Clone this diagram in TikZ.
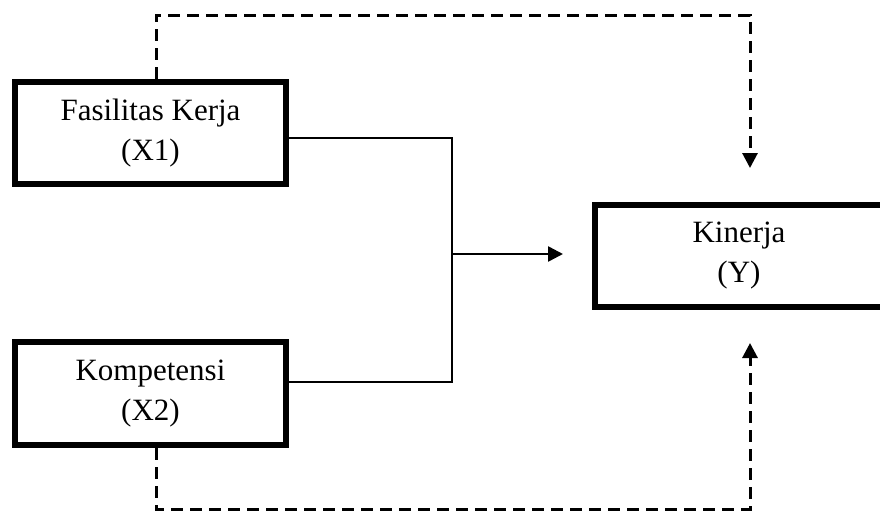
\documentclass[tikz,border=0pt]{standalone}
\usepackage{fontspec}
\setmainfont{Liberation Serif}
\usetikzlibrary{arrows.meta}
\begin{document}
\begin{tikzpicture}[x=1pt,y=-1pt,
  varbox/.style={draw,line width=6.5pt,rectangle,align=center,inner sep=0pt,
    font=\fontsize{31}{40}\selectfont},
  solidline/.style={line width=2.5pt},
  dashline/.style={line width=3pt,dash pattern=on 12pt off 7pt},
  tip/.style={-{Triangle[length=15pt,width=15pt]}}]
\clip (0,0) rectangle (880,512);
\fill[white] (0,0) rectangle (880,512);
\node[varbox,minimum width=271pt,minimum height=102pt] (b1) at (150.5,133) {Fasilitas Kerja\\(X1)};
\node[varbox,minimum width=271pt,minimum height=103pt] (b2) at (150.5,393.5) {Kompetensi\\(X2)};
\node[varbox,minimum width=288pt,minimum height=102pt] (b3) at (739,256) {Kinerja\\(Y)};
\coordinate (j) at (452,254);
\coordinate (t) at (563,254);
\coordinate (tl) at (156,15);
\coordinate (tr) at (750,15);
\coordinate (ta) at (750,168);
\coordinate (bl) at (156,509);
\coordinate (br) at (750,509);
\coordinate (ba) at (750,343);
\draw[solidline] ([yshift=-5pt]b1.east) -| (j) |- ([yshift=11.5pt]b2.east);
\draw[solidline,tip] (j) -- (t);
\draw[dashline,tip] ([xshift=5.5pt]b1.north) -- (tl) -- (tr) -- (ta);
\draw[dashline,tip] ([xshift=5.5pt]b2.south) -- (bl) -- (br) -- (ba);
\end{tikzpicture}
\end{document}
